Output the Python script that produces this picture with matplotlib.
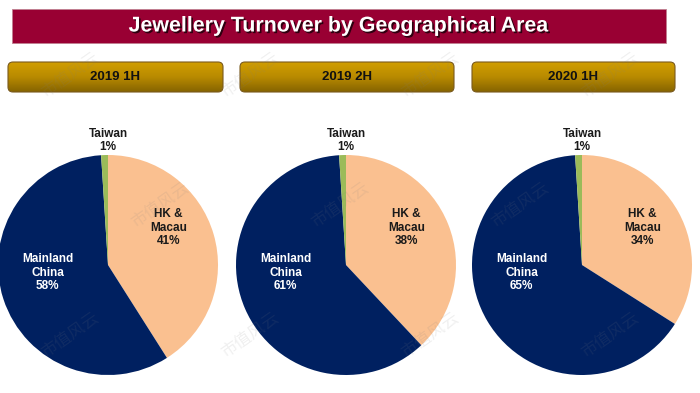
import matplotlib
matplotlib.use('Agg')
import matplotlib.pyplot as plt
import matplotlib.patheffects as pe
from matplotlib.patches import Rectangle, FancyBboxPatch
import numpy as np

plt.rcParams['font.family'] = ['Liberation Sans', 'DejaVu Sans']

# data
title = 'Jewellery Turnover by Geographical Area'
periods = ['2019 1H', '2019 2H', '2020 1H']
regions = ['HK &\nMacau', 'Mainland\nChina', 'Taiwan']
hk_macau = [41, 38, 34]
mainland = [58, 61, 65]
taiwan = [1, 1, 1]

colors = ['#FAC090', '#002060', '#9BBB59']
text_colors = ['#1a1a1a', 'white', '#1a1a1a']
# label spots inside each pie (pie radius = 1)
label_pos = [(0.55, 0.34), (-0.55, -0.07), (0.0, 1.13)]

W, H = 700, 393
fig = plt.figure(figsize=(7, 3.93), dpi=100)
bg = fig.add_axes([0, 0, 1, 1])
bg.set_xlim(0, W)
bg.set_ylim(H, 0)
bg.axis('off')

# title banner
bg.add_patch(Rectangle((12, 9), 654, 34, facecolor='#990033', edgecolor='#c08090', lw=0.6))
bg.text(339, 26, title, ha='center', va='center', color='white', fontsize=15.4,
        fontweight='bold',
        path_effects=[pe.SimplePatchShadow(offset=(1.2, -1.2), shadow_rgbFace='black', alpha=0.7),
                      pe.Normal()])

# period header boxes with gold gradient
boxes = [(8, 215), (240, 214), (472, 203)]
grad = np.linspace(0, 1, 64).reshape(-1, 1)
gold = matplotlib.colors.LinearSegmentedColormap.from_list('gold', ['#D19E00', '#B88A00', '#866400'])
for (x0, w), label in zip(boxes, periods):
    box = FancyBboxPatch((x0, 62), w, 30, boxstyle='round,pad=0,rounding_size=5',
                         facecolor='none', edgecolor='#7a5a1e', lw=0.8, zorder=3)
    bg.add_patch(box)
    im = bg.imshow(grad, cmap=gold, extent=(x0, x0 + w, 92, 62), aspect='auto', zorder=2)
    im.set_clip_path(box)
    bg.text(x0 + w / 2, 77.5, label, ha='center', va='center', fontsize=9.5,
            fontweight='bold', color='#111111', zorder=4)
bg.set_xlim(0, W)
bg.set_ylim(H, 0)

# pies
centers = [108, 346, 582]
cy, r = 265, 110
for i, cx in enumerate(centers):
    ax = fig.add_axes([(cx - r) / W, (H - cy - r) / H, 2 * r / W, 2 * r / H])
    vals = [hk_macau[i], mainland[i], taiwan[i]]
    ax.pie(vals, colors=colors, startangle=90, counterclock=False, radius=1,
           wedgeprops=dict(linewidth=0))
    ax.set_xlim(-1, 1)
    ax.set_ylim(-1, 1)
    ax.set_aspect('equal')
    ax.axis('off')
    for name, v, (lx, ly), tc in zip(regions, vals, label_pos, text_colors):
        ax.text(lx, ly, f'{name}\n{v}%', ha='center', va='center', fontsize=8.5,
                fontweight='bold', color=tc, linespacing=1.15, clip_on=False)

# faint watermark
for row, y in enumerate([75, 205, 335]):
    for k in range(4):
        x = 70 + k * 180 + (row % 2) * 90
        if x > 640:
            continue
        fig.text(x / W, 1 - y / H, '市值风云', rotation=35, ha='center', va='center',
                 fontsize=12, color='#808080', alpha=0.12, family=['Noto Sans CJK SC'])

fig.savefig('out.png', dpi=100)
